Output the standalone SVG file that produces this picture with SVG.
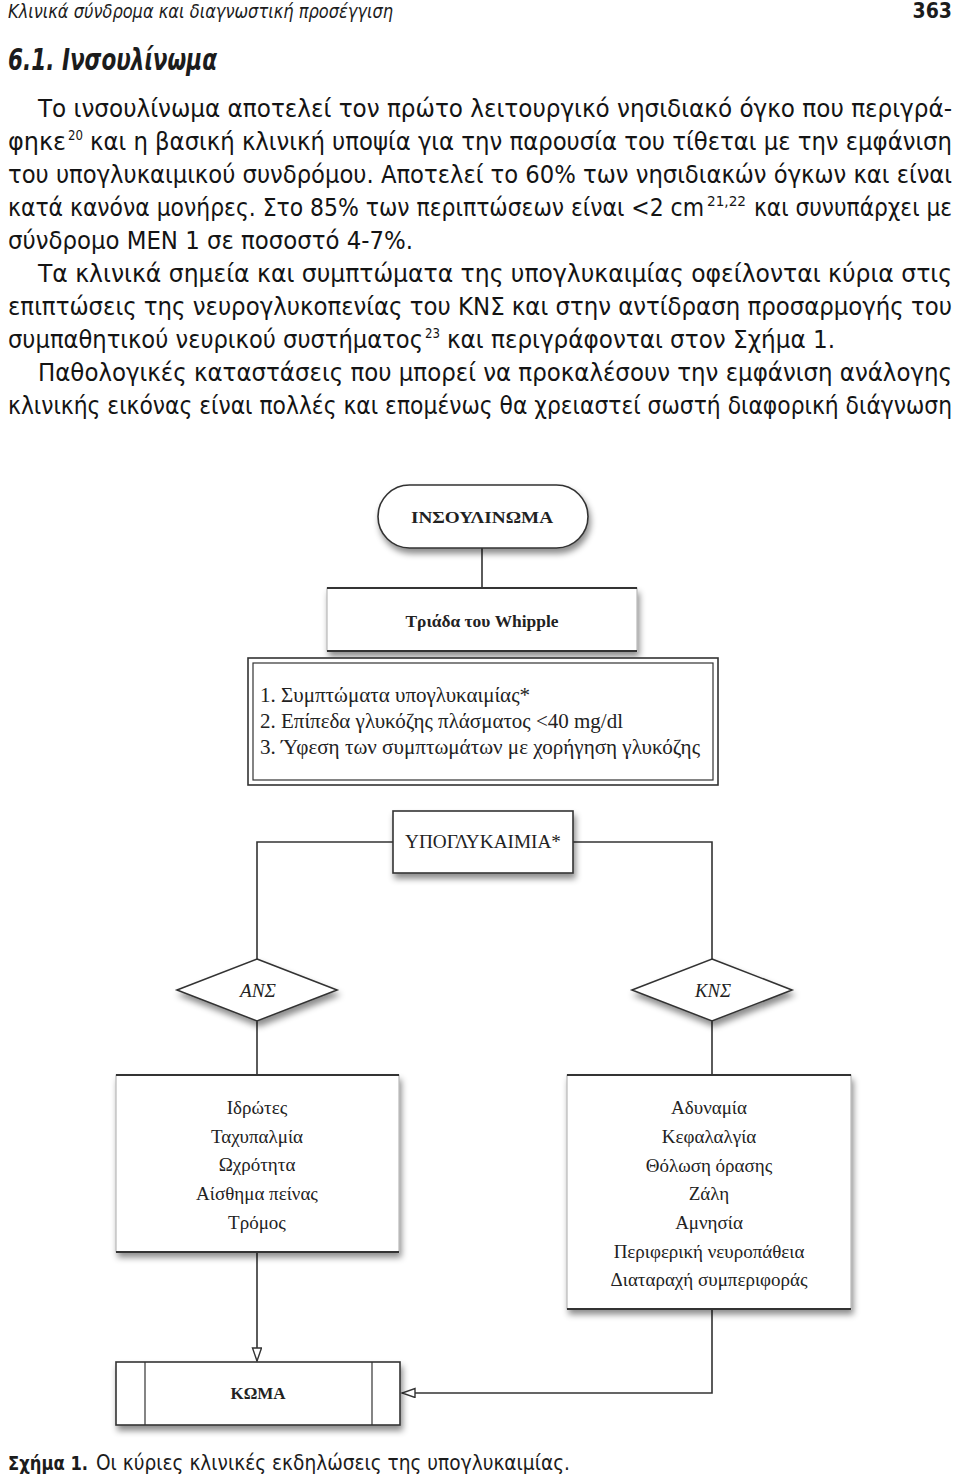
<svg xmlns="http://www.w3.org/2000/svg" width="960" height="1482" viewBox="0 0 960 1482">
<style>
.b{font-family:"Liberation Sans Narrow","DejaVu Sans Condensed","Open Sans",sans-serif;font-size:24px;fill:#141414}
.sup{font-family:"Liberation Sans Narrow","DejaVu Sans Condensed","Open Sans",sans-serif;font-size:14px;fill:#141414}
.hdr{font-family:"Liberation Sans Narrow","DejaVu Sans Condensed","Open Sans",sans-serif;fill:#1c1c1c}
.s{font-family:"Liberation Serif","DejaVu Serif",serif;fill:#222;text-anchor:middle}
.sl{font-family:"Liberation Serif","DejaVu Serif",serif;fill:#222;text-anchor:start;font-size:21px}
.ln{stroke:#333;stroke-width:1.6;fill:none}
.box{fill:#fff;stroke:#333;stroke-width:1.6}
.pane{fill:#fff;stroke:#aaa;stroke-width:1}
.edge{stroke:#333;stroke-width:2}
</style>
<defs>
<filter id="sh" x="-10%" y="-15%" width="125%" height="160%">
<feDropShadow dx="2" dy="5" stdDeviation="3" flood-color="#000" flood-opacity="0.45"/>
</filter>
<marker id="ah" markerUnits="userSpaceOnUse" markerWidth="16" markerHeight="12" refX="14" refY="5" orient="auto">
<path d="M1,0.5 L14,5 L1,9.5 z" fill="#fff" stroke="#333" stroke-width="1.4"/>
</marker>
</defs>
<rect width="960" height="1482" fill="#fff"/>

<g id="header">
<text class="hdr" x="8" y="18" font-size="20" font-style="italic" textLength="385" lengthAdjust="spacingAndGlyphs">Κλινικά σύνδρομα και διαγνωστική προσέγγιση</text>
<text class="hdr" x="952" y="18" font-size="21" font-weight="bold" text-anchor="end">363</text>
<text class="hdr" x="8" y="70" font-size="31" font-weight="bold" font-style="italic" textLength="209" lengthAdjust="spacingAndGlyphs">6.1. Ινσουλίνωμα</text>
</g>

<g id="body">
<text class="b" x="38" y="117" textLength="914" lengthAdjust="spacingAndGlyphs">Το ινσουλίνωμα αποτελεί τον πρώτο λειτουργικό νησιδιακό όγκο που περιγρά-</text>
<text class="b" x="8" y="150" textLength="58" lengthAdjust="spacingAndGlyphs">φηκε</text>
<text class="sup" x="68" y="140" textLength="15" lengthAdjust="spacingAndGlyphs">20</text>
<text class="b" x="90" y="150" textLength="862" lengthAdjust="spacingAndGlyphs">και η βασική κλινική υποψία για την παρουσία του τίθεται με την εμφάνιση</text>
<text class="b" x="8" y="183" textLength="944" lengthAdjust="spacingAndGlyphs">του υπογλυκαιμικού συνδρόμου. Αποτελεί το 60% των νησιδιακών όγκων και είναι</text>
<text class="b" x="8" y="216" textLength="696" lengthAdjust="spacingAndGlyphs">κατά κανόνα μονήρες. Στο 85% των περιπτώσεων είναι &lt;2 cm</text>
<text class="sup" x="707" y="206" textLength="39" lengthAdjust="spacingAndGlyphs">21,22</text>
<text class="b" x="754" y="216" textLength="198" lengthAdjust="spacingAndGlyphs">και συνυπάρχει με</text>
<text class="b" x="8" y="249" textLength="405" lengthAdjust="spacingAndGlyphs">σύνδρομο MEN 1 σε ποσοστό 4-7%.</text>
<text class="b" x="38" y="282" textLength="914" lengthAdjust="spacingAndGlyphs">Τα κλινικά σημεία και συμπτώματα της υπογλυκαιμίας οφείλονται κύρια στις</text>
<text class="b" x="8" y="315" textLength="944" lengthAdjust="spacingAndGlyphs">επιπτώσεις της νευρογλυκοπενίας του ΚΝΣ και στην αντίδραση προσαρμογής του</text>
<text class="b" x="8" y="348" textLength="415" lengthAdjust="spacingAndGlyphs">συμπαθητικού νευρικού συστήματος</text>
<text class="sup" x="425" y="338" textLength="15" lengthAdjust="spacingAndGlyphs">23</text>
<text class="b" x="447" y="348" textLength="388" lengthAdjust="spacingAndGlyphs">και περιγράφονται στον Σχήμα 1.</text>
<text class="b" x="38" y="381" textLength="914" lengthAdjust="spacingAndGlyphs">Παθολογικές καταστάσεις που μπορεί να προκαλέσουν την εμφάνιση ανάλογης</text>
<text class="b" x="8" y="414" textLength="944" lengthAdjust="spacingAndGlyphs">κλινικής εικόνας είναι πολλές και επομένως θα χρειαστεί σωστή διαφορική διάγνωση</text>
</g>

<g id="connectors">
<line class="ln" x1="482" y1="548" x2="482" y2="588"/>
<polyline class="ln" points="393,842 257,842 257,959"/>
<polyline class="ln" points="573,842 712,842 712,959"/>
<line class="ln" x1="257" y1="1021" x2="257" y2="1075"/>
<line class="ln" x1="712" y1="1021" x2="712" y2="1075"/>
<line class="ln" x1="257" y1="1252" x2="257" y2="1361" marker-end="url(#ah)"/>
<polyline class="ln" points="712,1309 712,1393 402,1393" marker-end="url(#ah)"/>
</g>

<g id="n-insulinoma">
<rect x="378" y="485" width="210" height="63" rx="31.5" class="box" filter="url(#sh)"/>
<text class="s" x="482" y="523" font-size="17" font-weight="bold" textLength="142" lengthAdjust="spacingAndGlyphs">ΙΝΣΟΥΛΙΝΩΜΑ</text>
</g>

<g id="n-whipple">
<rect x="327" y="588" width="310" height="63" class="pane" filter="url(#sh)"/>
<line class="edge" x1="327" y1="588" x2="637" y2="588"/>
<line class="edge" x1="327" y1="651" x2="637" y2="651"/>
<text class="s" x="482" y="627" font-size="17" font-weight="bold" textLength="153" lengthAdjust="spacingAndGlyphs">Τριάδα του Whipple</text>
</g>

<g id="n-criteria">
<rect x="248" y="658" width="470" height="127" fill="#fff" stroke="#333" stroke-width="1.6"/>
<rect x="253" y="663" width="460" height="117" fill="none" stroke="#333" stroke-width="1.2"/>
<text class="sl" x="260" y="702" textLength="270" lengthAdjust="spacingAndGlyphs">1. Συμπτώματα υπογλυκαιμίας*</text>
<text class="sl" x="260" y="728" textLength="363" lengthAdjust="spacingAndGlyphs">2. Επίπεδα γλυκόζης πλάσματος &lt;40 mg/dl</text>
<text class="sl" x="260" y="754" textLength="440" lengthAdjust="spacingAndGlyphs">3. Ύφεση των συμπτωμάτων με χορήγηση γλυκόζης</text>
</g>

<g id="n-hypo">
<rect x="393" y="811" width="180" height="62" class="box" filter="url(#sh)"/>
<text class="s" x="483" y="848" font-size="18" textLength="156" lengthAdjust="spacingAndGlyphs">ΥΠΟΓΛΥΚΑΙΜΙΑ*</text>
</g>

<g id="n-ans">
<polygon points="257,959 337,990 257,1021 177,990" class="box" filter="url(#sh)"/>
<text class="s" x="258" y="997" font-size="18" font-style="italic" textLength="36" lengthAdjust="spacingAndGlyphs">ΑΝΣ</text>
</g>

<g id="n-kns">
<polygon points="712,959 792,990 712,1021 632,990" class="box" filter="url(#sh)"/>
<text class="s" x="713" y="997" font-size="18" font-style="italic" textLength="36" lengthAdjust="spacingAndGlyphs">ΚΝΣ</text>
</g>

<g id="n-ans-symptoms">
<rect x="116" y="1075" width="283" height="177" class="pane" filter="url(#sh)"/>
<line class="edge" x1="116" y1="1075" x2="399" y2="1075"/>
<line class="edge" x1="116" y1="1252" x2="399" y2="1252"/>
<text class="s" x="257" y="1114" font-size="19">Ιδρώτες</text>
<text class="s" x="257" y="1143" font-size="19">Ταχυπαλμία</text>
<text class="s" x="257" y="1171" font-size="19">Ωχρότητα</text>
<text class="s" x="257" y="1200" font-size="19">Αίσθημα πείνας</text>
<text class="s" x="257" y="1229" font-size="19">Τρόμος</text>
</g>

<g id="n-kns-symptoms">
<rect x="567" y="1075" width="284" height="234" class="pane" filter="url(#sh)"/>
<line class="edge" x1="567" y1="1075" x2="851" y2="1075"/>
<line class="edge" x1="567" y1="1309" x2="851" y2="1309"/>
<text class="s" x="709" y="1114" font-size="19">Αδυναμία</text>
<text class="s" x="709" y="1143" font-size="19">Κεφαλαλγία</text>
<text class="s" x="709" y="1172" font-size="19">Θόλωση όρασης</text>
<text class="s" x="709" y="1200" font-size="19">Ζάλη</text>
<text class="s" x="709" y="1229" font-size="19">Αμνησία</text>
<text class="s" x="709" y="1258" font-size="19">Περιφερική νευροπάθεια</text>
<text class="s" x="709" y="1286" font-size="19">Διαταραχή συμπεριφοράς</text>
</g>

<g id="n-coma">
<rect x="116" y="1362" width="284" height="63" class="box" filter="url(#sh)"/>
<line x1="145" y1="1362" x2="145" y2="1425" stroke="#333" stroke-width="1.2"/>
<line x1="372" y1="1362" x2="372" y2="1425" stroke="#333" stroke-width="1.2"/>
<text class="s" x="258" y="1399" font-size="17" font-weight="bold">ΚΩΜΑ</text>
</g>

<g id="caption">
<text class="hdr" x="8" y="1470" font-size="19" font-weight="bold" textLength="80" lengthAdjust="spacingAndGlyphs">Σχήμα 1.</text>
<text class="hdr" x="96" y="1470" font-size="22" textLength="474" lengthAdjust="spacingAndGlyphs">Οι κύριες κλινικές εκδηλώσεις της υπογλυκαιμίας.</text>
</g>
</svg>
